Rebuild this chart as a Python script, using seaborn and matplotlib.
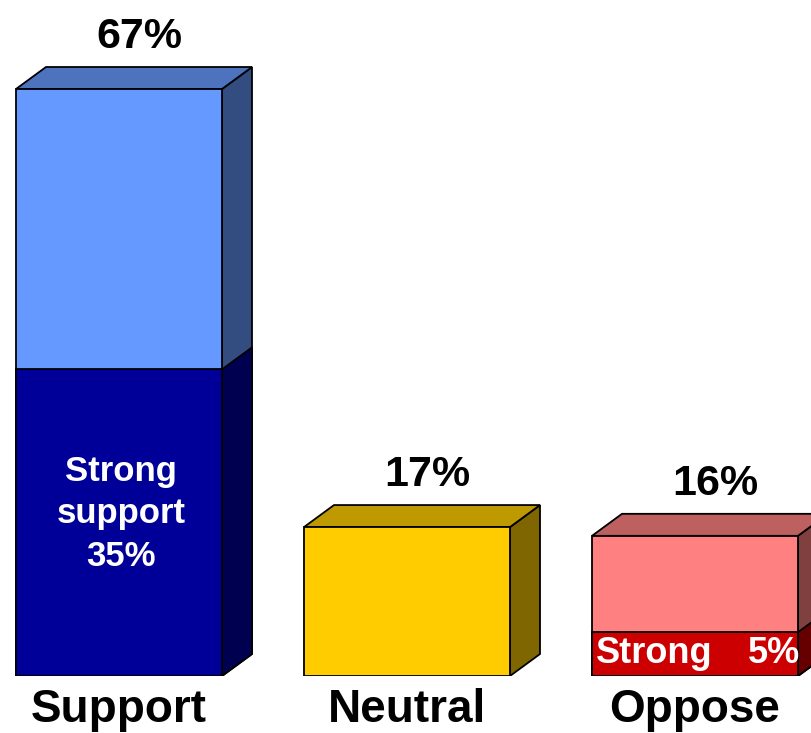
import matplotlib
matplotlib.use("Agg")
import matplotlib.pyplot as plt
from matplotlib.patches import Polygon
import seaborn as sns
import pandas as pd

# Survey results: share of respondents per position, with the "strong" subset
categories = ["Support", "Neutral", "Oppose"]
totals = [67, 17, 16]
strong = [35, 0, 5]

# Face colours per category: (front, top, side) for the full bar and the strong segment
front_colors = ["#6699FF", "#FFCC00", "#FF8080"]
top_colors = ["#4D73BF", "#BF9900", "#BF6060"]
side_colors = ["#334D80", "#806600", "#804040"]
strong_front = ["#000099", "#FFCC00", "#CC0000"]
strong_side = ["#000050", None, "#660000"]

sns.set_theme(style="white")
plt.rcParams["font.family"] = ["Liberation Sans", "DejaVu Sans"]

W, H = 811, 733
fig = plt.figure(figsize=(W / 100, H / 100), dpi=100)
base_px = 676
ax = fig.add_axes([0, (H - base_px) / H, 1, base_px / H])

df = pd.DataFrame({"category": categories, "total": totals, "strong": strong})
bar_w = 206 / 288
EDGE = 1.3

sns.barplot(data=df, x="category", y="total", hue="category", palette=front_colors,
            saturation=1, width=bar_w, edgecolor="black", linewidth=EDGE,
            legend=False, ax=ax, zorder=2)
total_patches = list(ax.patches)
sns.barplot(data=df, x="category", y="strong", hue="category", palette=strong_front,
            saturation=1, width=bar_w, edgecolor="black", linewidth=EDGE,
            legend=False, ax=ax, zorder=3)
strong_patches = [p for p in ax.patches if p not in total_patches]

# pixel-to-data scale
px_x = 1 / 288.0
px_y = 67 / 587.0
ax.set_xlim(-119 * px_x, -119 * px_x + W * px_x)
ax.set_ylim(0, base_px * px_y)
dx = 30 * px_x
dy = 22 * px_y


def side_face(x, y0, y1, color):
    ax.add_patch(Polygon([(x, y0), (x + dx, y0 + dy), (x + dx, y1 + dy), (x, y1)],
                         closed=True, facecolor=color, edgecolor="black", linewidth=EDGE,
                         zorder=1.5, joinstyle="miter"))


def top_face(x0, x1, y, color):
    ax.add_patch(Polygon([(x0, y), (x0 + dx, y + dy), (x1 + dx, y + dy), (x1, y)],
                         closed=True, facecolor=color, edgecolor="black", linewidth=EDGE,
                         zorder=1.5, joinstyle="miter"))


def bar_at(patches, i):
    return next(b for b in patches if abs(b.get_x() + b.get_width() / 2 - i) < 1e-6)


for i, cat in enumerate(categories):
    p = bar_at(total_patches, i)
    x0, w, h = p.get_x(), p.get_width(), p.get_height()
    side_face(x0 + w, 0, h, side_colors[i])
    top_face(x0, x0 + w, h, top_colors[i])
    sp = bar_at(strong_patches, i)
    if sp.get_height() > 0:
        side_face(x0 + w, 0, sp.get_height(), strong_side[i])
    else:
        sp.set_visible(False)
    # total percentage above the bar
    ax.text(i + 20 * px_x, h + dy + 19 * px_y, f"{totals[i]}%", ha="center", va="baseline",
            fontsize=31, fontweight="bold", color="black", zorder=5)

# labels inside the strong segments
sup = bar_at(strong_patches, 0)
ax.text(sup.get_x() + sup.get_width() / 2 + 2 * px_x, sup.get_height() / 2 + 1.0,
        f"Strong\nsupport\n{strong[0]}%", ha="center", va="center",
        fontsize=25, fontweight="bold", color="white", linespacing=1.36, zorder=5)
opp = bar_at(strong_patches, 2)
ax.text(opp.get_x() + 4 * px_x, 13 * px_y, "Strong", ha="left", va="baseline",
        fontsize=26, fontweight="bold", color="white", zorder=5)
ax.text(opp.get_x() + opp.get_width() + 2 * px_x, 13 * px_y, f"{strong[2]}%", ha="right",
        va="baseline", fontsize=26, fontweight="bold", color="white", zorder=5)

ax.set_xlabel("")
ax.set_ylabel("")
ax.set_yticks([])
ax.set_xticks(range(len(categories)))
ax.set_xticklabels(categories, fontsize=33, fontweight="bold", color="black")
ax.tick_params(axis="x", length=0, pad=9)
for s in ax.spines.values():
    s.set_visible(False)
ax.patch.set_alpha(0)

fig.savefig("out.png", dpi=100)
